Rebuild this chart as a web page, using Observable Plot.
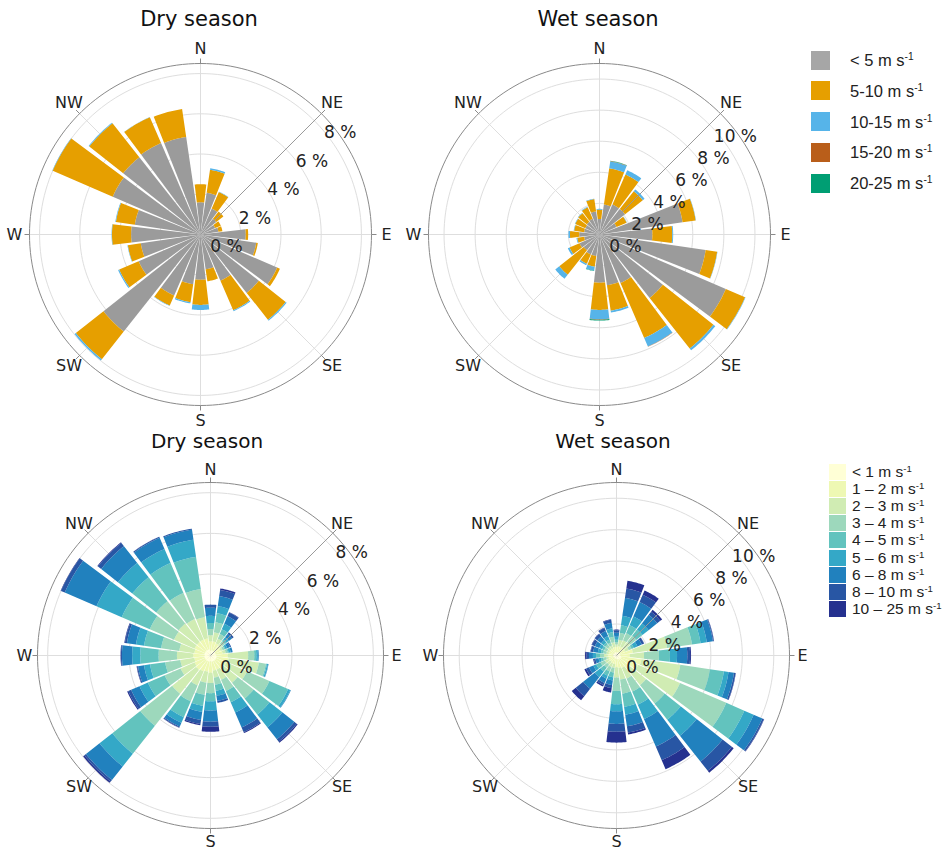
<!DOCTYPE html>
<html><head><meta charset="utf-8">
<script src="https://cdn.jsdelivr.net/npm/d3@7"></script>
<script src="https://cdn.jsdelivr.net/npm/@observablehq/plot@0.6"></script>
<style>
body{margin:0;background:#fff;font-family:"DejaVu Sans",sans-serif;}
#root{position:relative;width:947px;height:856px;overflow:hidden;background:#fff;}
.title{position:absolute;color:#111;transform:translate(-50%,-50%);white-space:nowrap;line-height:1;}
.rose{position:absolute;}
.leg{position:absolute;font-family:"Liberation Sans",Arial,sans-serif;color:#222;white-space:nowrap;}
.leg .sw{position:absolute;}
.leg .tx{position:absolute;transform:translateY(-50%);line-height:1;}
.leg sup{font-size:0.62em;vertical-align:0.55em;line-height:0;}
</style></head><body><div id="root"></div>
<script>
// ---------- data ----------
const directions = [0,15,30,45,60,75,90,105,120,135,150,165,180,195,210,225,240,255,270,285,300,315,330,345];
const compassLabels = ["N","NE","E","SE","S","SW","W","NW"];
const compassAngles = [0,45,90,135,180,225,270,315];
const dryTicks = [0,2,4,6,8];
const wetTicks = [0,2,4,6,8,10];

// top row: 5 speed classes
const coarseBins = ["< 5","5-10","10-15","15-20","20-25"];
const dryLt5    = [1.6,2.1,1.4,1.0,0.8,0.9,2.25,2.8,4.15,3.7,2.5,1.75,2.25,2.5,3.3,6.15,3.35,3.0,3.45,3.3,4.75,4.9,4.95,4.9];
const dry5to10  = [0.9,1.15,0.9,0.45,0.3,0.2,0.12,0.08,0.15,1.7,1.6,0.6,1.25,0.9,0.55,1.75,1.05,0.65,0.95,0.95,3.25,2.15,1.4,1.4];
const dry10to15 = [0,0.08,0.02,0,0,0,0,0,0,0.06,0.05,0,0.25,0.06,0.02,0.08,0.06,0.02,0.02,0.03,0.02,0.04,0.01,0];
const dry15to20 = [0,0,0,0,0,0,0,0,0,0,0,0,0,0,0,0,0,0,0,0,0,0,0,0];
const dry20to25 = [0,0,0,0,0,0,0,0,0,0,0,0,0,0,0,0,0,0,0,0,0,0,0,0];

const wetLt5    = [1.0,1.95,2.1,2.1,1.2,5.4,3.4,6.9,8.85,5.2,3.4,3.3,3.1,1.4,1.4,1.3,1.4,1.0,1.3,1.0,1.0,1.05,1.1,1.5];
const wet5to10  = [0.6,2.35,2.1,1.45,0.7,0.85,1.28,0.75,1.35,4.15,3.85,1.65,1.75,0.7,0.65,2.0,0.7,0.45,0.6,0.65,0.7,0.7,0.8,0.8];
const wet10to15 = [0.05,0.45,0.3,0.15,0.02,0.02,0.06,0.02,0.03,0.15,0.6,0.12,0.6,0.25,0.1,0.33,0.12,0.05,0.1,0.03,0.03,0.03,0.04,0.03];
const wet15to20 = [0,0.02,0,0,0,0,0,0,0,0,0.02,0,0.03,0,0,0,0,0,0,0,0,0,0,0];
const wet20to25 = [0,0.03,0,0,0,0,0,0,0,0,0,0,0.06,0.03,0,0,0,0,0,0,0,0,0,0];

// bottom row: 9 speed classes
const fineBins = ["< 1","1 – 2","2 – 3","3 – 4","4 – 5","5 – 6","6 – 8","8 – 10","10 – 25"];
const dryS1 = [0.25,0.25,0.25,0.25,0.25,0.25,0.3,0.3,0.3,0.3,0.3,0.3,0.3,0.3,0.3,0.3,0.3,0.3,0.3,0.3,0.3,0.3,0.3,0.3];
const dryS2 = [0.45,0.45,0.4,0.35,0.3,0.35,0.55,0.6,0.55,0.5,0.45,0.45,0.55,0.5,0.55,0.6,0.55,0.5,0.55,0.5,0.55,0.55,0.55,0.55];
const dryS3 = [0.3,0.45,0.25,0.15,0.1,0.15,1.0,1.5,1.1,0.9,0.55,0.35,0.5,0.55,0.75,1.5,0.75,0.7,0.8,0.75,1.1,1.15,1.1,1.05];
const dryS4 = [0.3,0.5,0.25,0.15,0.1,0.1,0.3,0.35,1.2,1.0,0.6,0.35,0.5,0.6,0.85,2.0,0.85,0.75,0.9,0.9,1.3,1.4,1.4,1.4];
const dryS5 = [0.3,0.45,0.25,0.1,0.05,0.05,0.1,0.05,1.0,1.0,0.6,0.3,0.4,0.55,0.85,1.75,0.9,0.75,0.9,0.85,1.5,1.5,1.6,1.6];
const dryS6 = [0.35,0.35,0.3,0.15,0.1,0.1,0.08,0.06,0.12,0.8,0.55,0.25,0.45,0.3,0.3,0.8,0.45,0.3,0.4,0.4,1.35,0.9,0.75,0.85];
const dryS7 = [0.4,0.5,0.4,0.2,0.15,0.1,0.04,0.02,0.03,0.75,0.8,0.25,0.55,0.4,0.2,0.85,0.45,0.3,0.5,0.45,1.7,1.05,0.6,0.5];
const dryS8 = [0.15,0.3,0.2,0.1,0.05,0,0,0,0,0.15,0.25,0.1,0.25,0.2,0.05,0.1,0.15,0.05,0.05,0.1,0.2,0.2,0.05,0.05];
const dryS9 = [0,0.08,0.02,0,0,0,0,0,0,0.06,0.05,0,0.25,0.06,0.02,0.08,0.06,0.02,0.02,0.03,0.02,0.04,0.01,0];

const wetS1 = [0.2,0.2,0.2,0.2,0.2,0.25,0.25,0.3,0.3,0.3,0.25,0.25,0.25,0.2,0.2,0.2,0.2,0.2,0.2,0.2,0.2,0.2,0.2,0.2];
const wetS2 = [0.35,0.4,0.4,0.45,0.4,0.8,0.6,1.3,1.2,0.8,0.6,0.55,0.5,0.35,0.35,0.3,0.35,0.3,0.35,0.3,0.3,0.3,0.3,0.35];
const wetS3 = [0.15,0.4,0.45,0.45,0.25,2.2,0.9,2.5,2.9,1.3,0.75,0.75,0.65,0.25,0.25,0.25,0.25,0.15,0.25,0.15,0.15,0.2,0.2,0.3];
const wetS4 = [0.15,0.45,0.5,0.5,0.2,1.6,0.95,1.9,3.2,1.5,0.9,0.9,0.85,0.3,0.3,0.25,0.3,0.2,0.25,0.2,0.2,0.2,0.2,0.35];
const wetS5 = [0.15,0.5,0.55,0.5,0.15,0.55,0.7,0.9,1.25,1.3,0.9,0.85,0.85,0.3,0.3,0.3,0.3,0.15,0.25,0.15,0.15,0.15,0.2,0.3];
const wetS6 = [0.2,0.6,0.6,0.5,0.25,0.4,0.45,0.3,0.65,1.3,1.0,0.5,0.45,0.2,0.2,0.45,0.2,0.15,0.2,0.2,0.2,0.2,0.25,0.25];
const wetS7 = [0.25,1.15,1.0,0.7,0.3,0.4,0.65,0.35,0.6,2.1,1.9,0.75,0.8,0.3,0.3,0.95,0.3,0.2,0.25,0.3,0.3,0.3,0.35,0.35];
const wetS8 = [0.15,0.6,0.5,0.25,0.15,0.05,0.18,0.1,0.1,0.75,0.95,0.4,0.5,0.2,0.15,0.6,0.2,0.1,0.15,0.15,0.2,0.2,0.2,0.2];
const wetS9 = [0.05,0.5,0.3,0.15,0.02,0.02,0.06,0.02,0.03,0.15,0.62,0.12,0.69,0.28,0.1,0.33,0.12,0.05,0.1,0.03,0.03,0.03,0.04,0.03];

const coarseColors = ["#9b9b9b","#e69f00","#56b4e9","#b95e1a","#009e73"];
const fineColors = ["#ffffd6","#eef8b3","#d0ecb3","#9dd8bc","#62c3be","#34a8c7","#2181be","#2856a4","#25318f"];

// ---------- drawing ----------
const rad = a => a * Math.PI / 180;

function rose({series, bins, colors, ticks, rmax, pxPer, size}) {
  const D = size / 2 / pxPer;
  const open = 13.3;
  const wedges = [];
  directions.forEach((d, i) => {
    let c0 = 0;
    series.forEach((s, k) => {
      const v = s[i];
      if (!(v > 0)) return;
      const c1 = c0 + v;
      const id = d + "-" + k;
      const a0 = d - open / 2, a1 = d + open / 2, n = 12;
      for (let j = 0; j <= n; j++) {
        const a = rad(a0 + (a1 - a0) * j / n);
        wedges.push({id, bin: bins[k], x: c1 * Math.sin(a), y: c1 * Math.cos(a)});
      }
      if (c0 > 0) {
        for (let j = n; j >= 0; j--) {
          const a = rad(a0 + (a1 - a0) * j / n);
          wedges.push({id, bin: bins[k], x: c0 * Math.sin(a), y: c0 * Math.cos(a)});
        }
      } else {
        wedges.push({id, bin: bins[k], x: 0, y: 0});
      }
      c0 = c1;
    });
  });
  const ringPts = [];
  ticks.filter(t => t > 0).concat([rmax]).forEach(t => {
    for (let a = 0; a <= 360; a += 2) ringPts.push({t, outer: t === rmax, x: t * Math.sin(rad(a)), y: t * Math.cos(rad(a))});
  });
  const tickLen = 5 / pxPer;
  const labR = 186 / pxPer;
  const compass = compassAngles.map((a, i) => ({a, label: compassLabels[i]}));
  return Plot.plot({
    width: size, height: size, margin: 0,
    x: {domain: [-D, D], axis: null},
    y: {domain: [-D, D], axis: null},
    color: {domain: bins, range: colors},
    style: {overflow: "visible", background: "transparent"},
    marks: [
      Plot.line(ringPts.filter(p => !p.outer), {x: "x", y: "y", z: "t", stroke: "#dedede", strokeWidth: 1}),
      Plot.link(compass.filter(c => c.a !== 45), {x1: 0, y1: 0, x2: c => rmax * Math.sin(rad(c.a)), y2: c => rmax * Math.cos(rad(c.a)), stroke: "#dedede", strokeWidth: 1}),
      Plot.line(ringPts.filter(p => p.outer), {x: "x", y: "y", stroke: "#8a8a8a", strokeWidth: 1}),
      Plot.link(compass, {x1: c => rmax * Math.sin(rad(c.a)), y1: c => rmax * Math.cos(rad(c.a)), x2: c => (rmax + tickLen) * Math.sin(rad(c.a)), y2: c => (rmax + tickLen) * Math.cos(rad(c.a)), stroke: "#8a8a8a", strokeWidth: 1}),
      Plot.line(wedges, {x: "x", y: "y", z: "id", fill: "bin", stroke: "none", curve: "linear-closed"}),
      Plot.link(compass.filter(c => c.a === 45), {x1: 0, y1: 0, x2: c => rmax * Math.sin(rad(c.a)), y2: c => rmax * Math.cos(rad(c.a)), stroke: "#9a9a9a", strokeWidth: 1}),
      Plot.text(compass, {x: c => labR * Math.sin(rad(c.a)), y: c => labR * Math.cos(rad(c.a)), text: "label", fontSize: 16, fill: "#222", fontFamily: "DejaVu Sans"}),
      Plot.text(ticks, {x: t => t * Math.SQRT1_2, y: t => t * Math.SQRT1_2, text: t => t + " %", dx: 26, dy: 12, fontSize: 17, fill: "#222", fontFamily: "DejaVu Sans"})
    ]
  });
}

const root = document.getElementById("root");
function place(el, cx, cy, size) {
  const w = document.createElement("div");
  w.className = "rose";
  w.style.left = (cx - size / 2) + "px";
  w.style.top = (cy - size / 2) + "px";
  w.style.width = size + "px"; w.style.height = size + "px";
  w.appendChild(el);
  root.appendChild(w);
}
function title(text, cx, cy, fs) {
  const t = document.createElement("div");
  t.className = "title"; t.textContent = text;
  t.style.left = cx + "px"; t.style.top = cy + "px"; t.style.fontSize = fs + "px";
  root.appendChild(t);
}

const S = 400;
place(rose({series: [dryLt5, dry5to10, dry10to15, dry15to20, dry20to25], bins: coarseBins, colors: coarseColors, ticks: dryTicks, rmax: 8.5, pxPer: 171 / 8.5, size: S}), 199.5, 233.5, S);
place(rose({series: [wetLt5, wet5to10, wet10to15, wet15to20, wet20to25], bins: coarseBins, colors: coarseColors, ticks: wetTicks, rmax: 11, pxPer: 171 / 11, size: S}), 599, 233.5, S);
place(rose({series: [dryS1, dryS2, dryS3, dryS4, dryS5, dryS6, dryS7, dryS8, dryS9], bins: fineBins, colors: fineColors, ticks: dryTicks, rmax: 8.5, pxPer: 173 / 8.5, size: S}), 209.5, 655, S);
place(rose({series: [wetS1, wetS2, wetS3, wetS4, wetS5, wetS6, wetS7, wetS8, wetS9], bins: fineBins, colors: fineColors, ticks: wetTicks, rmax: 11, pxPer: 173 / 11, size: S}), 616, 655, S);

title("Dry season", 199, 19, 21);
title("Wet season", 598, 19, 21);
title("Dry season", 207, 441, 20);
title("Wet season", 613, 441, 20);

// legends
function legend(bins, colors, x0, yc, dy, sw, sh, tx, fs, sep) {
  const g = document.createElement("div");
  g.className = "leg"; g.style.left = "0px"; g.style.top = "0px";
  bins.forEach((b, i) => {
    const s = document.createElement("div");
    s.className = "sw";
    s.style.left = x0 + "px"; s.style.top = (yc + i * dy - sh / 2) + "px";
    s.style.width = sw + "px"; s.style.height = sh + "px"; s.style.background = colors[i];
    g.appendChild(s);
    const t = document.createElement("div");
    t.className = "tx";
    t.style.left = tx + "px"; t.style.top = (yc + i * dy) + "px"; t.style.fontSize = fs + "px";
    t.innerHTML = b + sep + "m s<sup>-1</sup>";
    g.appendChild(t);
  });
  root.appendChild(g);
}
legend(coarseBins, ["#a6a6a6","#e69f00","#56b4e9","#b95e1a","#009e73"], 811, 60, 30.8, 19, 19, 850, 16.5, " ");
legend(fineBins, fineColors, 828.5, 472, 17.1, 17.5, 16, 852, 15.5, " ");
</script></body></html>
